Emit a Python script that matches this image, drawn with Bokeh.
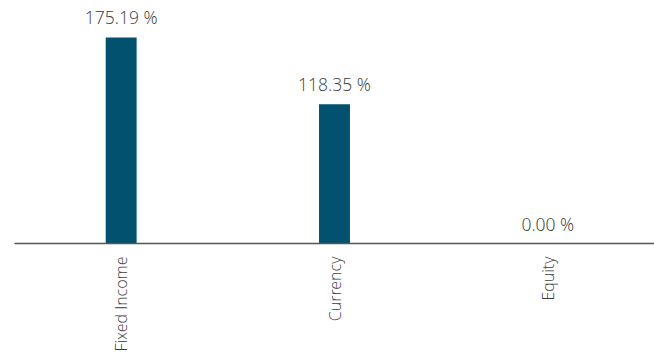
import math
from bokeh.plotting import figure
from bokeh.models import ColumnDataSource, FactorRange, Range1d
from bokeh.core.properties import value
from bokeh.embed import file_html
from bokeh.resources import INLINE

categories = ["Fixed Income", "Currency", "Equity"]
values = [175.19, 118.35, 0.00]
labels = [f"{v:.2f} %" for v in values]

src = ColumnDataSource(dict(cat=categories, val=values, lab=labels))

FONT = "'Open Sans Light', 'Open Sans'"

p = figure(width=654, height=354, output_backend="svg", toolbar_location=None,
           x_range=FactorRange(*categories, range_padding=0),
           y_range=Range1d(0, 205.7),
           min_border_left=14, min_border_right=0, min_border_top=1,
           min_border_bottom=110)
p.outline_line_color = None
p.background_fill_color = "white"
p.border_fill_color = "white"
p.xgrid.visible = False
p.ygrid.visible = False
p.yaxis.visible = False

p.vbar(x="cat", top="val", width=0.145, source=src, color="#01516f", line_color=None)
p.text(x="cat", y="val", text="lab", source=src, text_align="center",
       text_baseline="bottom", y_offset=-8, text_font=value(FONT),
       text_font_size="17.5px", text_color="#3c3c3c")

ax = p.xaxis[0]
ax.axis_line_color = "#555555"
ax.axis_line_width = 1.5
ax.major_tick_line_color = None
ax.minor_tick_line_color = None
ax.major_label_orientation = math.pi / 2
ax.major_label_text_font = FONT
ax.major_label_text_font_size = "16px"
ax.major_label_text_color = "#3c3c3c"
ax.major_label_standoff = 7

open("out.html", "w").write(file_html(p, INLINE))
